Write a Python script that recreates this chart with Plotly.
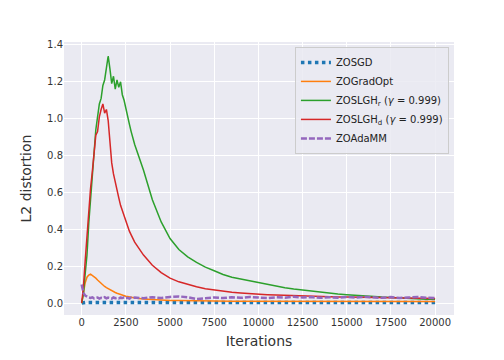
import plotly.graph_objects as go

# iteration grid: fine near the peak, coarser afterwards
iters = list(range(0, 3001, 100)) + list(range(3500, 20001, 500))

zosgd = [0.0] + [0.003] * (len(iters) - 1)

zogradopt = [
    0.0, 0.06, 0.11, 0.14, 0.152, 0.157, 0.15, 0.146, 0.135, 0.125, 0.115,
    0.105, 0.097, 0.09, 0.083, 0.077, 0.071, 0.066, 0.061, 0.057, 0.053,
    0.049, 0.046, 0.043, 0.04, 0.037, 0.035, 0.033, 0.031, 0.029, 0.027,
    0.022, 0.018, 0.016, 0.014, 0.013, 0.012, 0.012, 0.011, 0.011, 0.011,
    0.010, 0.010, 0.010, 0.010, 0.009, 0.009, 0.009, 0.009, 0.009, 0.009,
    0.008, 0.008, 0.008, 0.008, 0.008, 0.008, 0.008, 0.008, 0.008, 0.008,
    0.008, 0.008, 0.008, 0.008,
]

zoslgh_r = [
    0.0, 0.05, 0.16, 0.26, 0.43, 0.55, 0.71, 0.81, 0.94, 1.01, 1.08,
    1.11, 1.18, 1.21, 1.28, 1.34, 1.27, 1.19, 1.23, 1.16, 1.21, 1.17,
    1.20, 1.13, 1.10, 1.05, 1.01, 0.97, 0.93, 0.89, 0.86,
    0.72, 0.56, 0.44, 0.35, 0.29, 0.25, 0.22, 0.195, 0.175, 0.155, 0.14,
    0.13, 0.12, 0.11, 0.10, 0.09, 0.083, 0.076, 0.07, 0.064, 0.058, 0.053,
    0.049, 0.045, 0.041, 0.038, 0.035, 0.032, 0.03, 0.027, 0.025, 0.023,
    0.021, 0.02,
]

zoslgh_d = [
    0.0, 0.09, 0.23, 0.38, 0.53, 0.62, 0.71, 0.81, 0.91, 0.93, 1.01,
    1.05, 1.08, 1.03, 1.05, 0.99, 0.86, 0.76, 0.70, 0.65, 0.61, 0.57,
    0.53, 0.50, 0.47, 0.45, 0.42, 0.39, 0.37, 0.35, 0.33,
    0.26, 0.205, 0.165, 0.135, 0.115, 0.10, 0.088, 0.078, 0.07, 0.064,
    0.058, 0.054, 0.05, 0.047, 0.045, 0.043, 0.041, 0.039, 0.037, 0.036,
    0.035, 0.034, 0.033, 0.032, 0.031, 0.030, 0.029, 0.029, 0.028, 0.027,
    0.027, 0.026, 0.026, 0.025,
]

zoadamm = [
    0.10, 0.055, 0.04, 0.033, 0.03, 0.028, 0.031, 0.025, 0.027, 0.03, 0.024,
    0.028, 0.026, 0.031, 0.025, 0.029, 0.027, 0.024, 0.03, 0.026, 0.028,
    0.025, 0.029, 0.027, 0.031, 0.026, 0.028, 0.024, 0.029, 0.027, 0.03,
    0.026, 0.031, 0.027, 0.033, 0.036, 0.031, 0.022, 0.026, 0.03, 0.027,
    0.031, 0.028, 0.033, 0.030, 0.027, 0.031, 0.029, 0.034, 0.030, 0.032,
    0.028, 0.031, 0.029, 0.033, 0.030, 0.034, 0.031, 0.028, 0.032, 0.027,
    0.030, 0.033, 0.029, 0.027,
]

x_ticks = [0, 2500, 5000, 7500, 10000, 12500, 15000, 17500, 20000]
x_tick_labels = ["0", "2500", "5000", "7500", "10000", "12500", "15000", "17500", "20000"]
y_ticks = [0.0, 0.2, 0.4, 0.6, 0.8, 1.0, 1.2, 1.4]

series = [
    ("ZOSGD", zosgd, "#1f77b4", "dot", 3.5),
    ("ZOGradOpt", zogradopt, "#ff7f0e", "solid", 1.5),
    ("ZOSLGH<sub>r</sub> (<i>γ</i> = 0.999)", zoslgh_r, "#2ca02c", "solid", 1.5),
    ("ZOSLGH<sub>d</sub> (<i>γ</i> = 0.999)", zoslgh_d, "#d62728", "solid", 1.5),
    ("ZOAdaMM", zoadamm, "#9467bd", "6px,2px", 2.5),
]

fig = go.Figure()
for name, values, colour, dash, width in series:
    fig.add_trace(
        go.Scatter(
            x=iters,
            y=values,
            mode="lines",
            name=name,
            line={"color": colour, "dash": dash, "width": width},
        )
    )

axis_common = {
    "showgrid": True,
    "gridcolor": "white",
    "gridwidth": 1,
    "zeroline": False,
    "showline": False,
    "ticks": "",
    "tickfont": {"size": 10, "color": "#333333"},
}

# the page body adds an 8px margin, so the figure is drawn 8px smaller
fig.update_layout(
    width=496,
    height=352,
    margin={"l": 56, "r": 50, "t": 34, "b": 45},
    paper_bgcolor="white",
    plot_bgcolor="#EAEAF2",
    font={"family": "DejaVu Sans", "color": "#333333"},
    xaxis={
        **axis_common,
        "range": [-1000, 21070],
        "tickvals": x_ticks,
        "ticktext": x_tick_labels,
        "title": {"text": "Iterations", "font": {"size": 14}, "standoff": 9},
    },
    yaxis={
        **axis_common,
        "range": [-0.065, 1.416],
        "tickvals": y_ticks,
        "tickformat": ".1f",
        "title": {"text": "L2 distortion", "font": {"size": 14}, "standoff": 12},
    },
    legend={
        "x": 0.987,
        "y": 0.982,
        "xanchor": "right",
        "yanchor": "top",
        "bgcolor": "rgba(234,234,242,0.85)",
        "bordercolor": "#cccccc",
        "borderwidth": 1,
        "font": {"size": 10, "color": "#222222"},
        "itemwidth": 30,
        "tracegroupgap": 0,
    },
    showlegend=True,
)

fig.write_html("out.html")
